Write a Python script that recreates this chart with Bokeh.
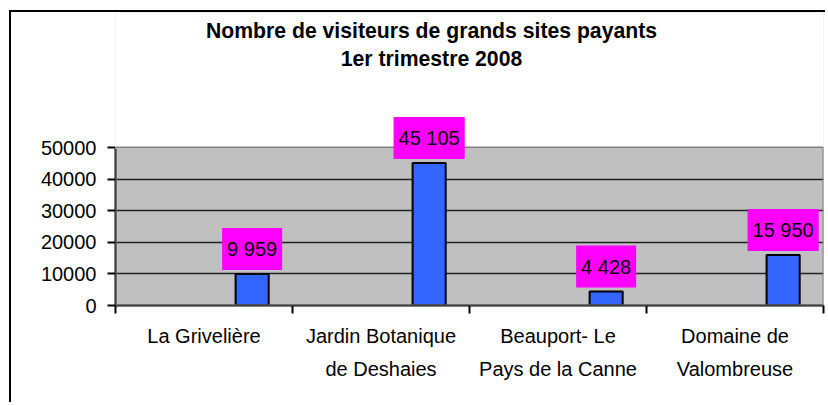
from bokeh.plotting import figure
from bokeh.models import Range1d, FixedTicker, Label, ColumnDataSource, BoxAnnotation
from bokeh.transform import dodge
from bokeh.embed import file_html
from bokeh.resources import INLINE

# ---- data ----
sites = ["La Grivelière", "Jardin Botanique\nde Deshaies", "Beauport- Le\nPays de la Canne", "Domaine de\nValombreuse"]
visitors = [9959, 45105, 4428, 15950]
y_ticks = [0, 10000, 20000, 30000, 40000, 50000]
title_lines = ["Nombre de visiteurs de grands sites payants", "1er trimestre 2008"]

FONT = "Liberation Sans"
BAR_OFFSET = 0.772
n = len(sites)
idx = list(range(n))
labels = [f"{v:,}".replace(",", " ") for v in visitors]
src = ColumnDataSource(dict(i=idx, v=visitors, lab=labels))

W, H = 816, 392
MB_BOTTOM = 99
PLOT_TOP_PX = 135          # canvas distance from top to the 50000 line
frame_h = H - MB_BOTTOM     # frame fills the canvas from the top
plot_h = frame_h - PLOT_TOP_PX
ymin, ymax = y_ticks[0], y_ticks[-1]
ytop = ymax * frame_h / plot_h
px_per_unit = plot_h / (ymax - ymin)

p = figure(width=W, height=H, output_backend="svg", toolbar_location=None,
           x_range=Range1d(0, n), y_range=Range1d(ymin, ytop),
           min_border_left=104, min_border_right=4,
           min_border_top=0, min_border_bottom=MB_BOTTOM)
p.styles = {"border-left": "2px solid black", "border-top": "2px solid black",
            "margin-left": "9px", "margin-top": "10px"}

p.background_fill_color = "#C0C0C0"
p.border_fill_color = "white"
p.outline_line_color = None

p.vbar(x=dodge("i", BAR_OFFSET), top="v", bottom=0, width=0.187, source=src,
       fill_color="#3366FF", line_color="black", line_width=2)

# x axis: ticks at category boundaries, labels at centres
xa = p.xaxis[0]
xa.ticker = FixedTicker(ticks=[i + 0.5 for i in idx], minor_ticks=list(range(n + 1)))
xa.major_label_overrides = {i + 0.5: s for i, s in enumerate(sites)}
xa.major_tick_out = 0
xa.major_tick_in = 0
xa.minor_tick_out = 8
xa.minor_tick_in = 0
xa.minor_tick_line_color = "black"
xa.minor_tick_line_width = 2
xa.axis_line_color = "black"
xa.axis_line_width = 2
xa.major_label_standoff = 11
xa.major_label_text_font = FONT
xa.major_label_text_font_size = "20px"
xa.major_label_text_color = "black"
xa.major_label_text_line_height = 1.5

ya = p.yaxis[0]
ya.ticker = FixedTicker(ticks=y_ticks, minor_ticks=[])
ya.bounds = (ymin, ymax)
ya.major_tick_out = 8
ya.major_tick_in = 0
ya.major_tick_line_color = "black"
ya.major_tick_line_width = 2
ya.axis_line_color = "black"
ya.axis_line_width = 2
ya.major_label_standoff = 11
ya.major_label_text_font = FONT
ya.major_label_text_font_size = "20px"
ya.major_label_text_color = "black"
ya.formatter.use_scientific = False

p.xgrid.visible = False
p.ygrid.ticker = FixedTicker(ticks=y_ticks[1:-1])
p.ygrid.grid_line_color = "#222222"
p.ygrid.grid_line_width = 1.5

# white area above the plot area (chart area), then grey plot-area outline
p.add_layout(BoxAnnotation(bottom=ymax, fill_color="white", fill_alpha=1,
                           line_color="white", line_width=3, line_alpha=1))
p.add_layout(BoxAnnotation(left=0, right=n, bottom=ymin, top=ymax,
                           fill_color=None, fill_alpha=0, line_color="#808080",
                           line_width=2, line_alpha=1))

for i, v, lab in zip(idx, visitors, labels):
    p.add_layout(Label(x=i + BAR_OFFSET, y=v, text=lab, text_align="center",
                       text_baseline="bottom", y_offset=4,
                       text_font=FONT, text_font_size="20px", text_color="black",
                       background_fill_color="#FF00FF",
                       padding=dict(left=5, right=5, top=10, bottom=10)))

for txt, px_above in zip(title_lines, [117, 89]):
    p.add_layout(Label(x=n / 2, y=ymax + px_above / px_per_unit, x_offset=-38, text=txt,
                       text_align="center", text_baseline="middle",
                       text_font=FONT, text_font_size="21.2px",
                       text_font_style="bold", text_color="black"))

open("out.html", "w").write(file_html(p, INLINE))
